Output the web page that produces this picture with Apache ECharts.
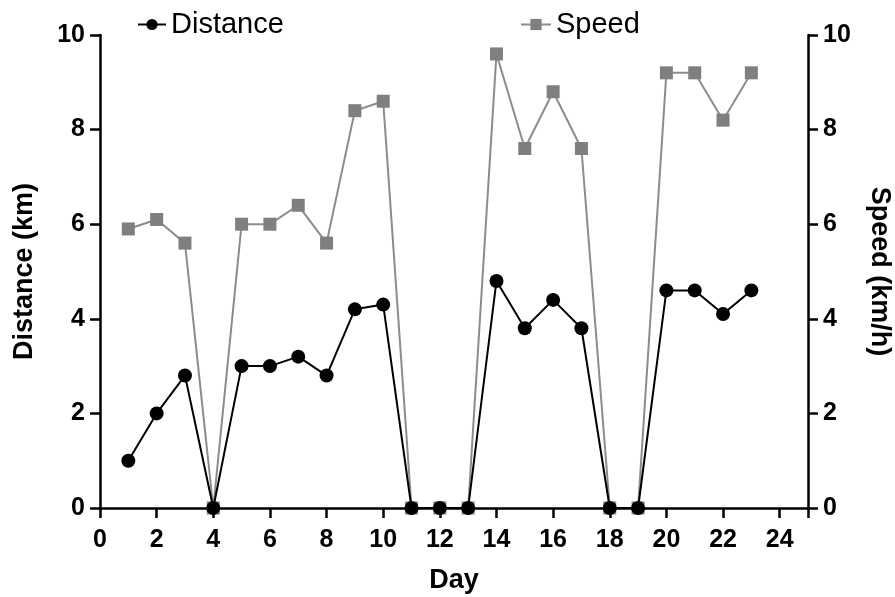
<!DOCTYPE html>
<html>
<head>
<meta charset="utf-8">
<script src="https://cdn.jsdelivr.net/npm/echarts@6/dist/echarts.min.js"></script>
<style>
html,body{margin:0;padding:0;background:#fff;}
#chart{width:895px;height:597px;}
</style>
</head>
<body>
<div id="chart"></div>
<script>
const days = [1,2,3,4,5,6,7,8,9,10,11,12,13,14,15,16,17,18,19,20,21,22,23];
const distance = [1,2,2.8,0,3,3,3.2,2.8,4.2,4.3,0,0,0,4.8,3.8,4.4,3.8,0,0,4.6,4.6,4.1,4.6];
const speed = [5.9,6.1,5.6,0,6.0,6.0,6.4,5.6,8.4,8.6,0,0,0,9.6,7.6,8.8,7.6,0,0,9.2,9.2,8.2,9.2];
const xTicks = [0,2,4,6,8,10,12,14,16,18,20,22,24];
const yTicks = [0,2,4,6,8,10];

const FONT = '"Liberation Sans", Arial, sans-serif';
const chart = echarts.init(document.getElementById('chart'));
const axisCommon = {
  axisLine:{show:true,lineStyle:{color:'#000',width:2.5}},
  axisTick:{show:true,length:10,lineStyle:{color:'#000',width:2.5}},
  splitLine:{show:false},
  axisLabel:{color:'#000',fontSize:25,fontWeight:'bold',fontFamily:FONT},
  nameTextStyle:{color:'#000',fontSize:27,fontWeight:'bold',fontFamily:FONT}
};
chart.setOption({
  animation:false,
  backgroundColor:'#fff',
  grid:{left:100,right:87,top:35,bottom:89,containLabel:false,outerBoundsMode:'none'},
  legend:[
    {data:['Distance'],left:132,top:5,itemWidth:28,itemHeight:14,itemGap:10,
     textStyle:{fontSize:29,fontFamily:FONT,color:'#000'}},
    {data:['Speed'],left:515,top:5,itemWidth:30,itemHeight:14,
     textStyle:{fontSize:29,fontFamily:FONT,color:'#000'}}
  ],
  xAxis:Object.assign({},axisCommon,{
    type:'value',min:0,max:25,interval:2,
    name:'Day',nameLocation:'middle',nameGap:59,
    axisLabel:Object.assign({},axisCommon.axisLabel,{margin:20,
      formatter:v=>xTicks.includes(v)?String(v):''})
  }),
  yAxis:[
    Object.assign({},axisCommon,{
      type:'value',min:0,max:10,interval:2,position:'left',
      name:'Distance (km)',nameLocation:'middle',nameGap:62,nameRotate:90,
      axisLabel:Object.assign({},axisCommon.axisLabel,{margin:15,
        formatter:v=>yTicks.includes(v)?String(v):''})
    }),
    Object.assign({},axisCommon,{
      type:'value',min:0,max:10,interval:2,position:'right',
      name:'Speed (km/h)',nameLocation:'middle',nameGap:58,nameRotate:-90,
      axisLabel:Object.assign({},axisCommon.axisLabel,{margin:15,
        formatter:v=>yTicks.includes(v)?String(v):''})
    })
  ],
  series:[
    {name:'Speed',type:'line',yAxisIndex:1,
     data:days.map((d,i)=>[d,speed[i]]),
     symbol:'rect',symbolSize:13,
     lineStyle:{color:'#8c8c8c',width:2},
     itemStyle:{color:'#7f7f7f'}},
    {name:'Distance',type:'line',yAxisIndex:0,
     data:days.map((d,i)=>[d,distance[i]]),
     symbol:'circle',symbolSize:14,
     lineStyle:{color:'#000',width:2},
     itemStyle:{color:'#000'}}
  ]
});
</script>
</body>
</html>
